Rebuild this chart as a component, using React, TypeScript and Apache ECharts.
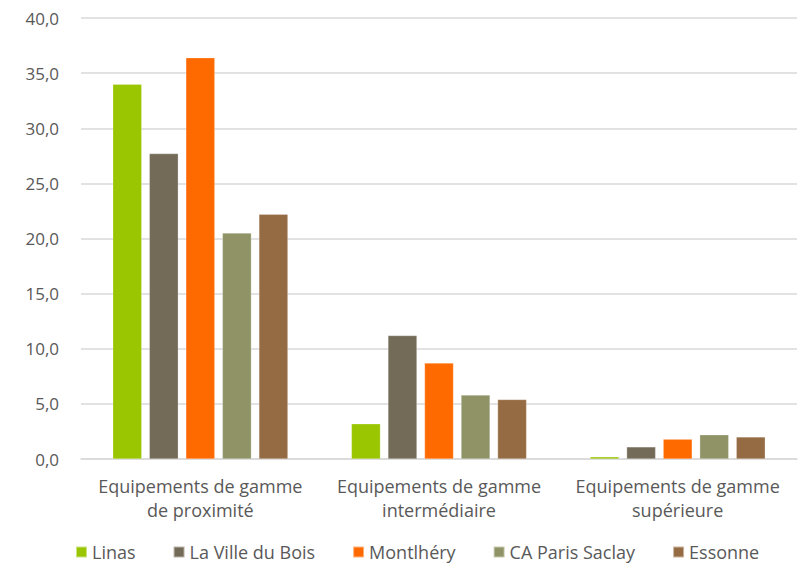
import React, { useEffect, useRef } from "react";
import * as echarts from "echarts";

const categories = [
  "Equipements de gamme\nde proximité",
  "Equipements de gamme\nintermédiaire",
  "Equipements de gamme\nsupérieure",
];
const seriesNames = ["Linas", "La Ville du Bois", "Montlhéry", "CA Paris Saclay", "Essonne"];
const linas = [34.0, 3.2, 0.2];
const villeDuBois = [27.7, 11.2, 1.1];
const montlhery = [36.4, 8.7, 1.8];
const caParisSaclay = [20.5, 5.8, 2.2];
const essonne = [22.2, 5.4, 2.0];
const colors = ["#99c600", "#746a58", "#ff6a00", "#909366", "#956b43"];

export default function App() {
  const ref = useRef<HTMLDivElement>(null);
  useEffect(() => {
    const chart = echarts.init(ref.current!, null, { renderer: "svg" });
    const data = [linas, villeDuBois, montlhery, caParisSaclay, essonne];
    const font = "Open Sans";
    chart.setOption({
      animation: false,
      color: colors,
      textStyle: { fontFamily: font },
      grid: { left: 73, right: 10, top: 10, bottom: 104 },
      legend: {
        top: 535,
        left: 67,
        padding: 0,
        itemWidth: 11,
        itemHeight: 11,
        itemGap: 37,
        icon: "rect",
        textStyle: { color: "#595959", fontSize: 18, fontFamily: font },
        data: seriesNames,
      },
      xAxis: {
        type: "category",
        data: categories,
        axisLine: { lineStyle: { color: "#d9d9d9", width: 1.5 } },
        axisTick: { show: false },
        axisLabel: { interval: 0, color: "#595959", fontSize: 18, lineHeight: 24, margin: 15, fontFamily: font },
      },
      yAxis: {
        type: "value",
        min: 0,
        max: 40,
        interval: 5,
        axisLine: { show: false },
        axisTick: { show: false },
        splitLine: { lineStyle: { color: "#d9d9d9", width: 1.5 } },
        axisLabel: {
          color: "#595959",
          fontSize: 17,
          margin: 22,
          fontFamily: font,
          formatter: (v: number) => v.toFixed(1).replace(".", ","),
        },
      },
      series: seriesNames.map((name, i) => ({
        name,
        type: "bar",
        data: data[i],
        barWidth: 29,
        barGap: "26%",
        itemStyle: { color: colors[i], borderColor: "rgba(255,255,255,0.5)", borderWidth: 0.5 },
      })),
    });
    return () => chart.dispose();
  }, []);
  return <div ref={ref} style={{ width: 799, height: 555 }} />;
}
